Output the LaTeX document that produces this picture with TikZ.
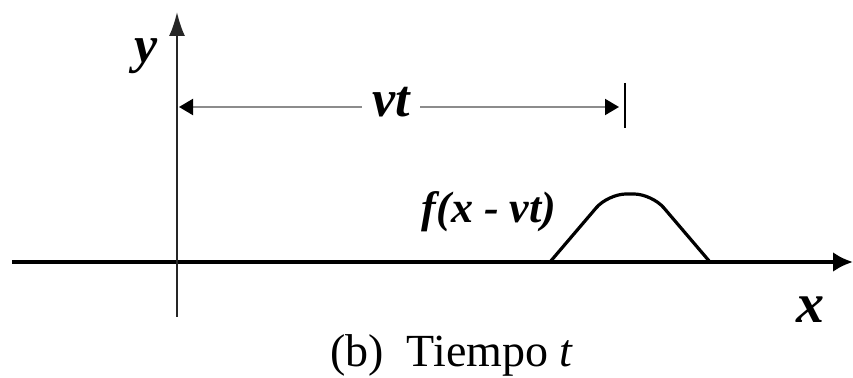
\documentclass[tikz,border=0pt]{standalone}
\usepackage{fontspec}
\setmainfont{Liberation Serif}
\usetikzlibrary{arrows.meta,positioning}

\begin{document}
\begin{tikzpicture}[
    x=0.5pt, y=-0.5pt,
    axis/.style={line width=2pt, -{Latex[length=10pt,width=10pt]}},
    yaxis/.style={line width=1pt, black!85, -{Latex[length=12pt,width=8pt]}},
    dimline/.style={line width=1pt, black!45, {Triangle[length=7pt,width=8pt,color=black]}-{Triangle[length=7pt,width=8pt,color=black]}},
    pulse/.style={line width=1.6pt, rounded corners=9pt},
    var/.style={font=\fontsize{26}{30}\selectfont\bfseries\itshape, inner sep=0pt}
  ]
    \useasboundingbox (0,0) rectangle (853,378);
    % axes
    \coordinate (xl) at (12,262);
    \coordinate (xr) at (853,262);
    \coordinate (yb) at (177,317);
    \coordinate (yt) at (177,12);
    \draw[axis] (xl) -- (xr);
    \draw[yaxis] (yb) -- (yt);
    \node[var] (ylab) at (146,56) {y};
    \node[var, font=\fontsize{28}{32}\selectfont\bfseries\itshape] (xlab) at (810,310) {x};

    % distance vt
    \coordinate (dl) at (179,107);
    \coordinate (dr) at (619,107);
    \coordinate (bt) at (625,83);
    \coordinate (bb) at (625,128);
    \draw[dimline] (dl) -- (dr);
    \draw[line width=1pt] (bt) -- (bb);
    \node[var, fill=white, anchor=base, inner xsep=5pt, inner ysep=1pt] (vt) at (391,117) {vt};

    % pulse
    \coordinate (p0) at (550,262);
    \coordinate (p1) at (608,194);
    \coordinate (p2) at (652,194);
    \coordinate (p3) at (710,262);
    \draw[pulse] (p0) -- (p1) -- (p2) -- (p3);
    \node[var, font=\fontsize{22}{26}\selectfont\bfseries\itshape] (flab) at (489,212) {f(x - vt)};

    % caption
    \node[font=\fontsize{23}{28}\selectfont, anchor=base] (cap) at (452,367) {(b)\hspace{0.5em}Tiempo \textit{t}};
  \end{tikzpicture}
\end{document}
